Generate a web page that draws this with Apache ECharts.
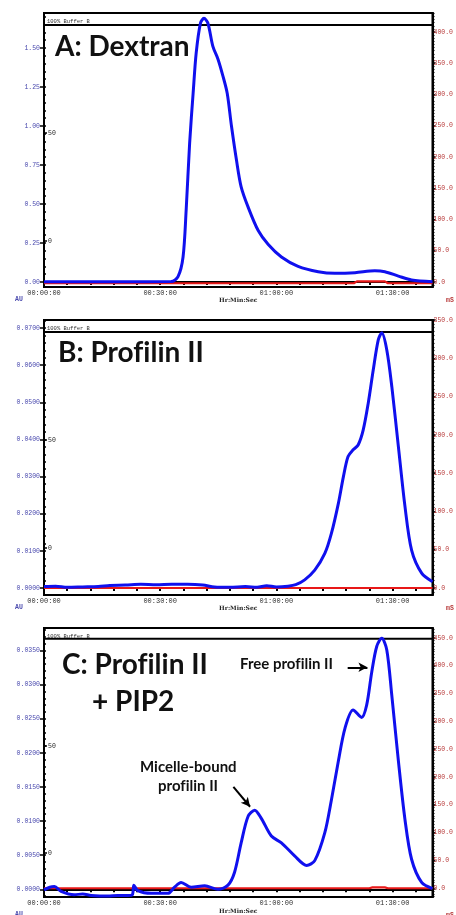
<!DOCTYPE html>
<html><head><meta charset="utf-8">
<script src="https://cdn.jsdelivr.net/npm/echarts@6/dist/echarts.min.js"></script>
<style>html,body{margin:0;padding:0;background:#fff}#c{width:456px;height:915px}</style>
</head><body><div id="c"></div>
<script>
// ---------- data ----------
const timeLabels = [0, 30, 60, 90];
const timeTicks = [0, 6, 12, 18, 24, 30, 36, 42, 48, 54, 60, 66, 72, 78, 84, 90, 96];
const auTicksA = [0, 0.25, 0.5, 0.75, 1.0, 1.25, 1.5];
const auTicksB = [0, 0.01, 0.02, 0.03, 0.04, 0.05, 0.06, 0.07];
const auTicksC = [0, 0.005, 0.01, 0.015, 0.02, 0.025, 0.03, 0.035];
const msTicksA = [0, 50, 100, 150, 200, 250, 300, 350, 400];
const msTicksB = [0, 50, 100, 150, 200, 250, 300, 350];
const msTicksC = [0, 50, 100, 150, 200, 250, 300, 350, 400, 450];
const bufferTicks = [0, 50];
// \u200C keeps "f" and "i" as separate glyphs (no ligature), as in the original
const panelTitles = ['A: Dextran', 'B: Prof\u200Cilin II', 'C: Prof\u200Cilin II'];

const dextranAU = [[0,0.002],[20,0.002],[32.8,0.003],[34.6,0.034],[35.9,0.16],[36.7,0.46],[37.6,0.89],[38.5,1.21],[39.3,1.47],[40.4,1.66],[41.3,1.69],[42.3,1.66],[43.6,1.51],[44.9,1.43],[46.2,1.32],[47.3,1.21],[48.4,1.0],[49.7,0.78],[50.9,0.61],[52.7,0.48],[55.3,0.33],[57.9,0.24],[61.3,0.16],[65.6,0.10],[70.8,0.066],[75.1,0.056],[80.3,0.06],[85.4,0.072],[88,0.066],[91.5,0.038],[94.9,0.013],[100.3,0.002]];
const profilinAU = [[0,0.0004],[3,0.0005],[6,0.0002],[10,0.0003],[14,0.0004],[17,0.0007],[21,0.0008],[25,0.0010],[29,0.0009],[33,0.0010],[37,0.0010],[41,0.0008],[44,0.0003],[48,0.0002],[52,0.0004],[55,0.0002],[57.5,0.0006],[60,0.0003],[63,0.0005],[65,0.0009],[67.3,0.0022],[69.9,0.0048],[72.5,0.0093],[74.2,0.0147],[76,0.0228],[77.3,0.030],[78.5,0.0354],[79.8,0.0372],[81.1,0.0385],[82.4,0.0425],[83.7,0.0497],[85,0.0587],[86.3,0.0668],[87.2,0.0687],[88.5,0.0641],[89.8,0.0542],[91.5,0.038],[93.2,0.0219],[94.9,0.0102],[97.5,0.004],[100.3,0.0017]];
const pip2AU = [[0,-0.0001],[1.5,0.0003],[2.7,0.0004],[4.4,-0.0003],[7.8,-0.0008],[10,-0.0007],[12.2,-0.0009],[16.5,-0.0010],[19,-0.0009],[21.6,-0.0009],[22.8,-0.0008],[23.2,0.0006],[24.2,-0.0002],[27.7,-0.0006],[32,-0.0006],[33.7,0.0003],[35.4,0.0010],[38,0.0003],[41.5,0.0005],[44.9,0.0],[47.5,0.0006],[49.2,0.0025],[50.9,0.0068],[52.7,0.0107],[54.4,0.0116],[56.1,0.0104],[58.7,0.0078],[61.3,0.0068],[64.7,0.0049],[67.8,0.0035],[69.9,0.0042],[72.5,0.0083],[74.2,0.0131],[76,0.0188],[77.7,0.0236],[79.8,0.0263],[82,0.0252],[83.3,0.027],[84.6,0.0318],[85.9,0.0356],[87.2,0.0368],[88.5,0.0351],[89.8,0.0284],[91.5,0.0188],[93.2,0.0102],[94.9,0.0044],[97.5,0.001],[100.3,0.0001]];

const dextranMS = [[0,-2],[80,-2],[80.8,1],[88,1],[88.8,-2],[100.3,-2]];
const profilinMS = [[0,0],[100.3,0]];
const pip2MS = [[0,0],[84,0],[84.8,1.5],[88,1.5],[88.8,0],[100.3,0]];
const bufferB = [[0,100],[100.3,100]];

// annotation arrows (panel C, data coords)
const freeArrow = [[78.4,0.03255],[83.5,0.03255]];
const micelleArrow = [[48.9,0.0150],[53.2,0.0121]];

// ---------- layout ----------
const X_MAX = 100.3;
const panels = [
  {top:13,  bottom:287, au:[-0.032,1.7244],    ms:[-8,430.4],   bf:[-21.3,105.6], auDec:2, auTicks:auTicksA, msTicks:msTicksA, blue:dextranAU, red:dextranMS},
  {top:320, bottom:595, au:[-0.00188,0.07216], ms:[-9.14,350],  bf:[-21.8,105.6], auDec:4, auTicks:auTicksB, msTicks:msTicksB, blue:profilinAU, red:profilinMS},
  {top:628, bottom:902, au:[-0.00115,0.03831], ms:[-15.9,467.6], bf:[-20.6,105],  auDec:4, auTicks:auTicksC, msTicks:msTicksC, blue:pip2AU, red:pip2MS}
];
const MONO = '"Liberation Mono","DejaVu Sans Mono",monospace';
const BLUE_LBL = '#4a4aae', RED_LBL = '#b83a3a';

function minorTicks(ticks, n, lo, hi) {
  const step = (ticks[1] - ticks[0]) / n;
  const out = [];
  for (let k = Math.ceil(lo / step); k <= Math.floor(hi / step); k++) out.push(+(k * step).toFixed(6));
  return out;
}
function hms(v) {
  const h = Math.floor(v / 60), m = Math.round(v % 60);
  return String(h).padStart(2,'0') + ':' + String(m).padStart(2,'0') + ':00';
}

const grid = [], xAxis = [], yAxis = [], series = [], graphic = [];
panels.forEach((p, i) => {
  grid.push({left:44, right:23, top:p.top, height:p.bottom - p.top, show:true, borderColor:'#000', borderWidth:2, backgroundColor:'#fff'});
  xAxis.push({
    type:'value', gridIndex:i, min:0, max:X_MAX,
    axisLine:{lineStyle:{color:'#000', width:2}},
    axisTick:{customValues:timeTicks, length:3, lineStyle:{color:'#000', width:2}},
    axisLabel:{customValues:timeLabels, formatter:hms, fontFamily:MONO, fontSize:7, color:'#333', margin:3},
    splitLine:{show:false},
    name:'Hr:Min:Sec', nameLocation:'middle', nameGap:10,
    nameTextStyle:{fontFamily:'"DejaVu Serif",serif', fontSize:6, color:'#222', fontWeight:'bold'}
  });
  const base = yAxis.length;
  yAxis.push({
    type:'value', gridIndex:i, position:'left', min:p.au[0], max:p.au[1],
    axisLine:{show:true, lineStyle:{color:'#000', width:2}},
    axisTick:{show:true, customValues:p.auTicks, length:4, lineStyle:{color:'#000', width:1.5}},
    axisLabel:{customValues:p.auTicks, formatter:v => v.toFixed(p.auDec), fontFamily:MONO, fontSize:6.5, color:BLUE_LBL, margin:4},
    splitLine:{show:false}
  });
  yAxis.push({
    type:'value', gridIndex:i, position:'left', min:p.au[0], max:p.au[1],
    axisLine:{show:false},
    axisTick:{show:true, inside:true, customValues:minorTicks(p.auTicks,5,p.au[0],p.au[1]), length:2, lineStyle:{color:'#000', width:1.5}},
    axisLabel:{show:false}, splitLine:{show:false}
  });
  yAxis.push({
    type:'value', gridIndex:i, position:'right', min:p.ms[0], max:p.ms[1],
    axisLine:{show:true, lineStyle:{color:'#000', width:2}},
    axisTick:{show:true, customValues:p.msTicks, length:3, lineStyle:{color:'#000', width:1.5}},
    axisLabel:{customValues:p.msTicks, formatter:v => v.toFixed(1), fontFamily:MONO, fontSize:6.5, color:RED_LBL, margin:1},
    splitLine:{show:false}
  });
  yAxis.push({
    type:'value', gridIndex:i, position:'right', min:p.ms[0], max:p.ms[1],
    axisLine:{show:false},
    axisTick:{show:true, customValues:minorTicks(p.msTicks,10,p.ms[0],p.ms[1]), length:2, lineStyle:{color:'#000', width:1.2}},
    axisLabel:{show:false}, splitLine:{show:false}
  });
  yAxis.push({
    type:'value', gridIndex:i, position:'left', min:p.bf[0], max:p.bf[1],
    axisLine:{show:false},
    axisTick:{show:true, inside:true, customValues:bufferTicks, length:3, lineStyle:{color:'#000', width:1.5}},
    axisLabel:{inside:true, customValues:bufferTicks, fontFamily:MONO, fontSize:6.5, color:'#222', margin:4},
    splitLine:{show:false}
  });
  series.push({type:'line', xAxisIndex:i, yAxisIndex:base+4, data:bufferB, showSymbol:false, lineStyle:{color:'#000', width:2}, z:2, silent:true});
  series.push({type:'line', xAxisIndex:i, yAxisIndex:base+2, data:p.red, showSymbol:false, lineStyle:{color:'#e81818', width:2.2}, z:3, silent:true});
  const blue = {type:'line', xAxisIndex:i, yAxisIndex:base, data:p.blue, showSymbol:false, smooth:0.3, lineStyle:{color:'#1010ee', width:3}, z:4, silent:true};
  if (i === 2) {
    blue.markLine = {
      silent:true, symbol:['none','arrow'], symbolSize:[7,9],
      lineStyle:{color:'#000', width:2, type:'solid'}, label:{show:false},
      data:[
        [{coord:freeArrow[0]}, {coord:freeArrow[1]}],
        [{coord:micelleArrow[0]}, {coord:micelleArrow[1]}]
      ]
    };
  }
  series.push(blue);
  graphic.push({type:'text', left:47, top:p.top + 6, z:10, style:{text:'100% Buffer B', fontFamily:MONO, fontSize:5.5, fill:'#333'}});
  graphic.push({type:'text', left:15, top:p.bottom + 9, z:10, style:{text:'AU', fontFamily:MONO, fontSize:6.5, fill:BLUE_LBL, fontWeight:'bold'}});
  graphic.push({type:'text', left:446, top:p.bottom + 10, z:10, style:{text:'mS', fontFamily:MONO, fontSize:6.5, fill:RED_LBL, fontWeight:'bold'}});
});

const TITLE = {fontFamily:'Lato, "Open Sans", sans-serif', fontWeight:'bold', fill:'#111'};
graphic.push({type:'text', left:55, top:33, z:10, style:Object.assign({text:panelTitles[0], fontSize:28}, TITLE)});
graphic.push({type:'text', left:58, top:339, z:10, style:Object.assign({text:panelTitles[1], fontSize:28}, TITLE)});
graphic.push({type:'text', left:62, top:651, z:10, style:Object.assign({text:panelTitles[2], fontSize:28}, TITLE)});
graphic.push({type:'text', left:92, top:688, z:10, style:Object.assign({text:'+ PIP2', fontSize:28}, TITLE)});
graphic.push({type:'text', left:240, top:657, z:10, style:Object.assign({text:'Free prof\u200Cilin II', fontSize:15}, TITLE)});
graphic.push({type:'text', left:140, top:760, z:10, style:Object.assign({text:'Micelle-bound', fontSize:15}, TITLE)});
graphic.push({type:'text', left:158, top:779, z:10, style:Object.assign({text:'prof\u200Cilin II', fontSize:15}, TITLE)});

const chart = echarts.init(document.getElementById('c'), null, {renderer:'canvas'});
chart.setOption({animation:false, backgroundColor:'#fff', grid, xAxis, yAxis, series, graphic});
</script></body></html>
